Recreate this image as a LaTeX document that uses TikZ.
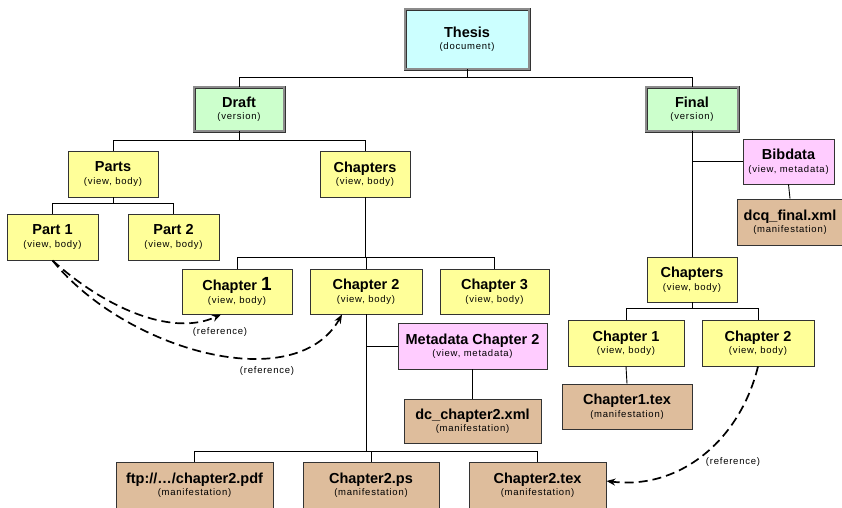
\documentclass[tikz,border=0pt]{standalone}
\usepackage{fontspec}
\setmainfont{Liberation Sans}
\newfontfamily\subfamily[LetterSpace=8]{Liberation Sans}
\usetikzlibrary{arrows.meta}
\definecolor{docfill}{HTML}{CCFFFF}
\definecolor{verfill}{HTML}{CCFFCC}
\definecolor{viewfill}{HTML}{FFFF99}
\definecolor{metafill}{HTML}{FFCCFF}
\definecolor{manfill}{HTML}{DEBD9C}
\definecolor{edgecol}{HTML}{333333}
\newcommand{\bxt}[2]{{\fontsize{14.5}{16}\selectfont\bfseries #1}\\[0.5pt]{\subfamily\fontsize{9.5}{10}\selectfont #2}}
\begin{document}
\begin{tikzpicture}[x=1pt,y=-1pt,
  sz/.style 2 args={minimum width=#1pt, minimum height=#2pt},
  basebox/.style={draw=edgecol, line width=0.9pt, inner sep=0pt, align=center},
  viewbox/.style={basebox, fill=viewfill},
  metabox/.style={basebox, fill=metafill},
  manbox/.style={basebox, fill=manfill},
  framebox/.style={basebox, draw=black!80, double=black!45, double distance=1.4pt, line width=0.8pt},
  docbox/.style={framebox, fill=docfill},
  verbox/.style={framebox, fill=verfill},
  link/.style={draw=black, line width=0.9pt},
  refarrow/.style={draw=black, line width=1.7pt, dash pattern=on 9pt off 5pt, -{Stealth[length=9pt,width=7pt]}},
  reflabel/.style={font=\subfamily\fontsize{9.5}{10}\selectfont, inner sep=1pt}
]
\useasboundingbox (0,0) rectangle (842,507);

% nodes
\node[docbox, sz={124}{60}] (thesis) at (467,39) {\bxt{Thesis}{(document)}};
\node[verbox, sz={90}{44}] (draft) at (239,109) {\bxt{Draft}{(version)}};
\node[verbox, sz={92}{44}] (final) at (692,109) {\bxt{Final}{(version)}};

\node[viewbox, sz={90}{46}] (parts) at (113,174) {\bxt{Parts}{(view, body)}};
\node[viewbox, sz={90}{46}] (chaps) at (365,174) {\bxt{Chapters}{(view, body)}};
\node[viewbox, sz={91}{46}] (part1) at (52.5,237) {\bxt{Part 1}{(view, body)}};
\node[viewbox, sz={91}{46}] (part2) at (173.5,237) {\bxt{Part 2}{(view, body)}};

\node[viewbox, sz={110}{45}] (ch1) at (237,291.5) {\bxt{Chapter {\fontsize{19}{16}\selectfont 1}}{(view, body)}};
\node[viewbox, sz={112}{45}] (ch2) at (366,291.5) {\bxt{Chapter 2}{(view, body)}};
\node[viewbox, sz={109}{45}] (ch3) at (494.5,291.5) {\bxt{Chapter 3}{(view, body)}};
\node[metabox, sz={149}{46}] (meta) at (472.5,346) {\bxt{Metadata Chapter 2}{(view, metadata)}};
\node[manbox, sz={137}{44}] (dcx) at (472.5,421) {\bxt{dc\_chapter2.xml}{(manifestation)}};

\node[manbox, sz={157}{46}] (pdf) at (194.5,485) {\bxt{ftp://\ldots/chapter2.pdf}{(manifestation)}};
\node[manbox, sz={136}{46}] (ps) at (371,485) {\bxt{Chapter2.ps}{(manifestation)}};
\node[manbox, sz={137}{46}] (tex) at (537.5,485) {\bxt{Chapter2.tex}{(manifestation)}};

\node[metabox, sz={91}{45}] (bib) at (788.5,161.5) {\bxt{Bibdata}{(view, metadata)}};
\node[manbox, sz={106}{46}] (dcq) at (790,222) {\bxt{dcq\_final.xml}{(manifestation)}};
\node[viewbox, sz={90}{45}] (fchaps) at (692,279.5) {\bxt{Chapters}{(view, body)}};
\node[viewbox, sz={116}{46}] (fch1) at (626,343) {\bxt{Chapter 1}{(view, body)}};
\node[viewbox, sz={112}{46}] (fch2) at (758,343) {\bxt{Chapter 2}{(view, body)}};
\node[manbox, sz={130}{45}] (fch1tex) at (627,406.5) {\bxt{Chapter1.tex}{(manifestation)}};

% tree links
\draw[link] (thesis.south) -- ++(0,8) coordinate (b1);
\draw[link] (draft.north) |- (b1) -| (final.north);
\draw[link] (draft.south) -- ++(0,9) coordinate (b2);
\draw[link] (parts.north) |- (b2) -| (chaps.north);
\draw[link] (parts.south) -- ++(0,6) coordinate (b3);
\draw[link] (part1.north) |- (b3) -| (part2.north);
\draw[link] (chaps.south) -- ++(0,60) coordinate (b4);
\draw[link] (ch1.north) |- (b4) -| (ch3.north);
\draw[link] (ch2.north) -- (ch2.north |- b4);
\draw[link] (ch2.south) -- ++(0,137) coordinate (b5);
\draw[link] (pdf.north) |- (b5) -| (tex.north);
\draw[link] (ps.north) -- (ps.north |- b5);
\draw[link] (meta.west) -- (meta.west -| ch2.south);
\draw[link] (meta.south) -- (dcx.north);

\draw[link] (final.south) -- (fchaps.north);
\draw[link] (bib.west) -- (bib.west -| final.south);
\draw[link] (bib.south) -- (dcq.north);
\draw[link] (fchaps.south) -- ++(0,6) coordinate (b6);
\draw[link] (fch1.north) |- (b6) -| (fch2.north);
\draw[link] (fch1.south) -- (fch1tex.north);

% reference arrows
\draw[refarrow] (part1.south) .. controls (110,312) and (175,336) .. ([xshift=-16pt]ch1.south);
\draw[refarrow] (part1.south) .. controls (125,350) and (295,398) .. ([xshift=-24pt]ch2.south);
\draw[refarrow] (fch2.south) .. controls (740,440) and (680,490) .. ([yshift=4pt]tex.east);

\node[reflabel] (r1) at (220,332) {(reference)};
\node[reflabel] (r2) at (267,371) {(reference)};
\node[reflabel] (r3) at (733,462) {(reference)};
\end{tikzpicture}
\end{document}
